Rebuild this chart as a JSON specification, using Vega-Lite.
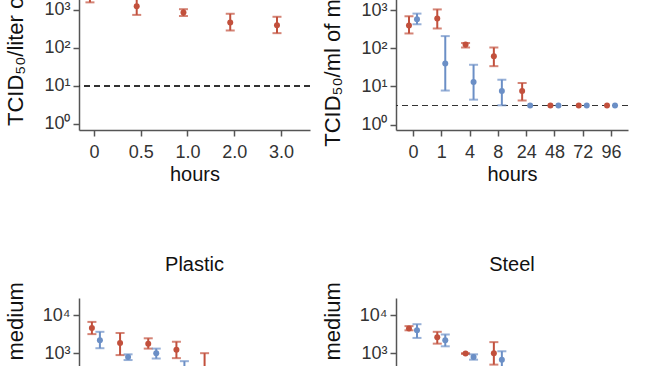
{
  "$schema": "https://vega.github.io/schema/vega-lite/v6.json",
  "padding": {"left": 4, "top": -94, "right": 0, "bottom": 0},
  "background": "white",
  "config": {
    "view": {"stroke": null},
    "axis": {
      "gridColor": "#dcdcdc", "gridWidth": 1,
      "domainColor": "#555", "domainWidth": 1.5,
      "tickColor": "#555", "tickWidth": 1.5, "tickSize": 6,
      "labelFont": "Liberation Sans", "labelFontSize": 18, "labelColor": "#333",
      "titleFont": "Liberation Sans", "titleFontWeight": "normal", "titleColor": "#111"
    },
    "axisY": {
      "labelExpr": "'10' + ['⁰','¹','²','³','⁴'][round(log(datum.value)/LN10)]",
      "titleFontSize": 22, "titlePadding": 15, "labelPadding": 3
    },
    "axisX": {"labelAngle": 0, "titleFontSize": 20, "labelPadding": 7, "titlePadding": 3},
    "title": {"font": "Liberation Sans", "fontSize": 20, "fontWeight": "normal", "color": "#111", "offset": 12}
  },
  "data": {"values": [
    {"panel": "Aerosols", "hours": "0", "virus": "SARS-CoV-2", "value": 2818, "lo": 1585, "hi": 5012},
    {"panel": "Aerosols", "hours": "0.5", "virus": "SARS-CoV-2", "value": 1259, "lo": 741, "hi": 1995},
    {"panel": "Aerosols", "hours": "1.0", "virus": "SARS-CoV-2", "value": 851, "lo": 692, "hi": 1047},
    {"panel": "Aerosols", "hours": "2.0", "virus": "SARS-CoV-2", "value": 468, "lo": 288, "hi": 794},
    {"panel": "Aerosols", "hours": "3.0", "virus": "SARS-CoV-2", "value": 398, "lo": 245, "hi": 661},

    {"panel": "Cardboard", "hours": "0", "virus": "SARS-CoV-2", "value": 398, "lo": 245, "hi": 692},
    {"panel": "Cardboard", "hours": "0", "virus": "SARS-CoV-1", "value": 575, "lo": 427, "hi": 813},
    {"panel": "Cardboard", "hours": "1", "virus": "SARS-CoV-2", "value": 603, "lo": 331, "hi": 1047},
    {"panel": "Cardboard", "hours": "1", "virus": "SARS-CoV-1", "value": 40, "lo": 7.8, "hi": 209},
    {"panel": "Cardboard", "hours": "4", "virus": "SARS-CoV-2", "value": 126, "lo": 105, "hi": 138},
    {"panel": "Cardboard", "hours": "4", "virus": "SARS-CoV-1", "value": 13, "lo": 4.5, "hi": 37},
    {"panel": "Cardboard", "hours": "8", "virus": "SARS-CoV-2", "value": 62, "lo": 34, "hi": 105},
    {"panel": "Cardboard", "hours": "8", "virus": "SARS-CoV-1", "value": 7.6, "lo": 3.2, "hi": 15},
    {"panel": "Cardboard", "hours": "24", "virus": "SARS-CoV-2", "value": 7.6, "lo": 4.3, "hi": 12.3},
    {"panel": "Cardboard", "hours": "24", "virus": "SARS-CoV-1", "value": 3.16, "lo": null, "hi": null},
    {"panel": "Cardboard", "hours": "48", "virus": "SARS-CoV-2", "value": 3.16, "lo": null, "hi": null},
    {"panel": "Cardboard", "hours": "48", "virus": "SARS-CoV-1", "value": 3.16, "lo": null, "hi": null},
    {"panel": "Cardboard", "hours": "72", "virus": "SARS-CoV-2", "value": 3.16, "lo": null, "hi": null},
    {"panel": "Cardboard", "hours": "72", "virus": "SARS-CoV-1", "value": 3.16, "lo": null, "hi": null},
    {"panel": "Cardboard", "hours": "96", "virus": "SARS-CoV-2", "value": 3.16, "lo": null, "hi": null},
    {"panel": "Cardboard", "hours": "96", "virus": "SARS-CoV-1", "value": 3.16, "lo": null, "hi": null},

    {"panel": "Plastic", "hours": "0", "virus": "SARS-CoV-2", "value": 4571, "lo": 3162, "hi": 6607},
    {"panel": "Plastic", "hours": "0", "virus": "SARS-CoV-1", "value": 2188, "lo": 1349, "hi": 3631},
    {"panel": "Plastic", "hours": "1", "virus": "SARS-CoV-2", "value": 1862, "lo": 891, "hi": 3388},
    {"panel": "Plastic", "hours": "1", "virus": "SARS-CoV-1", "value": 794, "lo": 661, "hi": 933},
    {"panel": "Plastic", "hours": "4", "virus": "SARS-CoV-2", "value": 1778, "lo": 1318, "hi": 2455},
    {"panel": "Plastic", "hours": "4", "virus": "SARS-CoV-1", "value": 1000, "lo": 724, "hi": 1318},
    {"panel": "Plastic", "hours": "8", "virus": "SARS-CoV-2", "value": 1230, "lo": 741, "hi": 1995},
    {"panel": "Plastic", "hours": "8", "virus": "SARS-CoV-1", "value": 316, "lo": 158, "hi": 617},
    {"panel": "Plastic", "hours": "24", "virus": "SARS-CoV-2", "value": 316, "lo": 100, "hi": 1000},

    {"panel": "Steel", "hours": "0", "virus": "SARS-CoV-2", "value": 4467, "lo": 3981, "hi": 5129},
    {"panel": "Steel", "hours": "0", "virus": "SARS-CoV-1", "value": 3981, "lo": 2512, "hi": 5754},
    {"panel": "Steel", "hours": "1", "virus": "SARS-CoV-2", "value": 2630, "lo": 1778, "hi": 3631},
    {"panel": "Steel", "hours": "1", "virus": "SARS-CoV-1", "value": 2188, "lo": 1514, "hi": 3090},
    {"panel": "Steel", "hours": "4", "virus": "SARS-CoV-2", "value": 977, "lo": 955, "hi": 1000},
    {"panel": "Steel", "hours": "4", "virus": "SARS-CoV-1", "value": 794, "lo": 676, "hi": 933},
    {"panel": "Steel", "hours": "8", "virus": "SARS-CoV-2", "value": 1000, "lo": 501, "hi": 1950},
    {"panel": "Steel", "hours": "8", "virus": "SARS-CoV-1", "value": 676, "lo": 316, "hi": 1122}
  ]},
  "vconcat": [
    {
      "spacing": 10,
      "hconcat": [
        {
          "title": "Aerosols",
          "width": 231, "height": 175,
          "transform": [{"filter": "datum.panel === 'Aerosols'"}],
          "layer": [
            {"mark": {"type": "rule", "strokeDash": [6, 4], "color": "#333", "strokeWidth": 1.5},
             "encoding": {"y": {"datum": 10, "type": "quantitative", "scale": {"type": "log", "domain": [0.69, 28000]}, "axis": {"title": "TCID₅₀/liter of air", "values": [1, 10, 100, 1000, 10000]}}}},
            {"mark": {"type": "rule", "strokeWidth": 2, "xOffset": {"expr": "datum.virus === 'SARS-CoV-2' ? -4 : 4"}},
             "encoding": {
               "x": {"field": "hours", "type": "ordinal", "scale": {"type": "point", "padding": 0.47, "align": 0.34, "domain": ["0", "0.5", "1.0", "2.0", "3.0"]}, "axis": {"title": "hours"}},
               "y": {"field": "lo", "type": "quantitative", "scale": {"type": "log", "domain": [0.69, 28000]}, "axis": {"title": "TCID₅₀/liter of air", "values": [1, 10, 100, 1000, 10000]}},
               "y2": {"field": "hi"},
               "color": {"field": "virus", "type": "nominal", "scale": {"domain": ["SARS-CoV-2", "SARS-CoV-1"], "range": ["#c2503c", "#6b8fc6"]}, "legend": null}
             }},
            {"mark": {"type": "tick", "size": 9, "thickness": 2, "orient": "horizontal", "xOffset": {"expr": "datum.virus === 'SARS-CoV-2' ? -4 : 4"}},
             "encoding": {
               "x": {"field": "hours", "type": "ordinal", "scale": {"type": "point", "padding": 0.47, "align": 0.34, "domain": ["0", "0.5", "1.0", "2.0", "3.0"]}, "axis": {"title": "hours"}},
               "y": {"field": "lo", "type": "quantitative", "scale": {"type": "log", "domain": [0.69, 28000]}, "axis": {"title": "TCID₅₀/liter of air", "values": [1, 10, 100, 1000, 10000]}},
               "color": {"field": "virus", "type": "nominal", "scale": {"domain": ["SARS-CoV-2", "SARS-CoV-1"], "range": ["#c2503c", "#6b8fc6"]}, "legend": null}
             }},
            {"mark": {"type": "tick", "size": 9, "thickness": 2, "orient": "horizontal", "xOffset": {"expr": "datum.virus === 'SARS-CoV-2' ? -4 : 4"}},
             "encoding": {
               "x": {"field": "hours", "type": "ordinal", "scale": {"type": "point", "padding": 0.47, "align": 0.34, "domain": ["0", "0.5", "1.0", "2.0", "3.0"]}, "axis": {"title": "hours"}},
               "y": {"field": "hi", "type": "quantitative", "scale": {"type": "log", "domain": [0.69, 28000]}, "axis": {"title": "TCID₅₀/liter of air", "values": [1, 10, 100, 1000, 10000]}},
               "color": {"field": "virus", "type": "nominal", "scale": {"domain": ["SARS-CoV-2", "SARS-CoV-1"], "range": ["#c2503c", "#6b8fc6"]}, "legend": null}
             }},
            {"mark": {"type": "circle", "size": 36, "opacity": 1, "xOffset": {"expr": "datum.virus === 'SARS-CoV-2' ? -4 : 4"}},
             "encoding": {
               "x": {"field": "hours", "type": "ordinal", "scale": {"type": "point", "padding": 0.47, "align": 0.34, "domain": ["0", "0.5", "1.0", "2.0", "3.0"]}, "axis": {"title": "hours"}},
               "y": {"field": "value", "type": "quantitative", "scale": {"type": "log", "domain": [0.69, 28000]}, "axis": {"title": "TCID₅₀/liter of air", "values": [1, 10, 100, 1000, 10000]}},
               "color": {"field": "virus", "type": "nominal", "scale": {"domain": ["SARS-CoV-2", "SARS-CoV-1"], "range": ["#c2503c", "#6b8fc6"]}, "legend": null}
             }}
          ]
        },
        {
          "title": "Cardboard",
          "width": 232, "height": 175,
          "transform": [{"filter": "datum.panel === 'Cardboard'"}],
          "layer": [
            {"mark": {"type": "rule", "strokeDash": [6, 4], "color": "#333", "strokeWidth": 1.2},
             "encoding": {"y": {"datum": 3.16, "type": "quantitative", "scale": {"type": "log", "domain": [0.72, 28000]}, "axis": {"title": "TCID₅₀/ml of medium", "values": [1, 10, 100, 1000, 10000]}}}},
            {"mark": {"type": "rule", "strokeWidth": 2, "xOffset": {"expr": "datum.virus === 'SARS-CoV-2' ? -4 : 4"}},
             "encoding": {
               "x": {"field": "hours", "type": "ordinal", "scale": {"type": "point", "padding": 0.6, "domain": ["0", "1", "4", "8", "24", "48", "72", "96"]}, "axis": {"title": "hours"}},
               "y": {"field": "lo", "type": "quantitative", "scale": {"type": "log", "domain": [0.72, 28000]}, "axis": {"title": "TCID₅₀/ml of medium", "values": [1, 10, 100, 1000, 10000]}},
               "y2": {"field": "hi"},
               "color": {"field": "virus", "type": "nominal", "scale": {"domain": ["SARS-CoV-2", "SARS-CoV-1"], "range": ["#c2503c", "#6b8fc6"]}, "legend": null}
             }},
            {"mark": {"type": "tick", "size": 9, "thickness": 2, "orient": "horizontal", "xOffset": {"expr": "datum.virus === 'SARS-CoV-2' ? -4 : 4"}},
             "encoding": {
               "x": {"field": "hours", "type": "ordinal", "scale": {"type": "point", "padding": 0.6, "domain": ["0", "1", "4", "8", "24", "48", "72", "96"]}, "axis": {"title": "hours"}},
               "y": {"field": "lo", "type": "quantitative", "scale": {"type": "log", "domain": [0.72, 28000]}, "axis": {"title": "TCID₅₀/ml of medium", "values": [1, 10, 100, 1000, 10000]}},
               "color": {"field": "virus", "type": "nominal", "scale": {"domain": ["SARS-CoV-2", "SARS-CoV-1"], "range": ["#c2503c", "#6b8fc6"]}, "legend": null}
             }},
            {"mark": {"type": "tick", "size": 9, "thickness": 2, "orient": "horizontal", "xOffset": {"expr": "datum.virus === 'SARS-CoV-2' ? -4 : 4"}},
             "encoding": {
               "x": {"field": "hours", "type": "ordinal", "scale": {"type": "point", "padding": 0.6, "domain": ["0", "1", "4", "8", "24", "48", "72", "96"]}, "axis": {"title": "hours"}},
               "y": {"field": "hi", "type": "quantitative", "scale": {"type": "log", "domain": [0.72, 28000]}, "axis": {"title": "TCID₅₀/ml of medium", "values": [1, 10, 100, 1000, 10000]}},
               "color": {"field": "virus", "type": "nominal", "scale": {"domain": ["SARS-CoV-2", "SARS-CoV-1"], "range": ["#c2503c", "#6b8fc6"]}, "legend": null}
             }},
            {"mark": {"type": "circle", "size": 36, "opacity": 1, "xOffset": {"expr": "datum.virus === 'SARS-CoV-2' ? -4 : 4"}},
             "encoding": {
               "x": {"field": "hours", "type": "ordinal", "scale": {"type": "point", "padding": 0.6, "domain": ["0", "1", "4", "8", "24", "48", "72", "96"]}, "axis": {"title": "hours"}},
               "y": {"field": "value", "type": "quantitative", "scale": {"type": "log", "domain": [0.72, 28000]}, "axis": {"title": "TCID₅₀/ml of medium", "values": [1, 10, 100, 1000, 10000]}},
               "color": {"field": "virus", "type": "nominal", "scale": {"domain": ["SARS-CoV-2", "SARS-CoV-1"], "range": ["#c2503c", "#6b8fc6"]}, "legend": null}
             }}
          ]
        }
      ]
    },
    {
      "spacing": 10,
      "hconcat": [
        {
          "title": {"text": "Plastic", "offset": 7},
          "width": 231, "height": 175,
          "transform": [{"filter": "datum.panel === 'Plastic'"}],
          "layer": [
            {"mark": {"type": "rule", "strokeDash": [6, 4], "color": "#333", "strokeWidth": 1.2},
             "encoding": {"y": {"datum": 3.16, "type": "quantitative", "scale": {"type": "log", "domain": [0.72, 28000]}, "axis": {"title": "TCID₅₀/ml of medium", "values": [1, 10, 100, 1000, 10000]}}}},
            {"mark": {"type": "rule", "strokeWidth": 2, "xOffset": {"expr": "datum.virus === 'SARS-CoV-2' ? -4 : 4"}},
             "encoding": {
               "x": {"field": "hours", "type": "ordinal", "scale": {"type": "point", "padding": 0.6, "domain": ["0", "1", "4", "8", "24", "48", "72", "96"]}, "axis": {"title": "hours"}},
               "y": {"field": "lo", "type": "quantitative", "scale": {"type": "log", "domain": [0.72, 28000]}, "axis": {"title": "TCID₅₀/ml of medium", "values": [1, 10, 100, 1000, 10000]}},
               "y2": {"field": "hi"},
               "color": {"field": "virus", "type": "nominal", "scale": {"domain": ["SARS-CoV-2", "SARS-CoV-1"], "range": ["#c2503c", "#6b8fc6"]}, "legend": null}
             }},
            {"mark": {"type": "tick", "size": 9, "thickness": 2, "orient": "horizontal", "xOffset": {"expr": "datum.virus === 'SARS-CoV-2' ? -4 : 4"}},
             "encoding": {
               "x": {"field": "hours", "type": "ordinal", "scale": {"type": "point", "padding": 0.6, "domain": ["0", "1", "4", "8", "24", "48", "72", "96"]}, "axis": {"title": "hours"}},
               "y": {"field": "lo", "type": "quantitative", "scale": {"type": "log", "domain": [0.72, 28000]}, "axis": {"title": "TCID₅₀/ml of medium", "values": [1, 10, 100, 1000, 10000]}},
               "color": {"field": "virus", "type": "nominal", "scale": {"domain": ["SARS-CoV-2", "SARS-CoV-1"], "range": ["#c2503c", "#6b8fc6"]}, "legend": null}
             }},
            {"mark": {"type": "tick", "size": 9, "thickness": 2, "orient": "horizontal", "xOffset": {"expr": "datum.virus === 'SARS-CoV-2' ? -4 : 4"}},
             "encoding": {
               "x": {"field": "hours", "type": "ordinal", "scale": {"type": "point", "padding": 0.6, "domain": ["0", "1", "4", "8", "24", "48", "72", "96"]}, "axis": {"title": "hours"}},
               "y": {"field": "hi", "type": "quantitative", "scale": {"type": "log", "domain": [0.72, 28000]}, "axis": {"title": "TCID₅₀/ml of medium", "values": [1, 10, 100, 1000, 10000]}},
               "color": {"field": "virus", "type": "nominal", "scale": {"domain": ["SARS-CoV-2", "SARS-CoV-1"], "range": ["#c2503c", "#6b8fc6"]}, "legend": null}
             }},
            {"mark": {"type": "circle", "size": 36, "opacity": 1, "xOffset": {"expr": "datum.virus === 'SARS-CoV-2' ? -4 : 4"}},
             "encoding": {
               "x": {"field": "hours", "type": "ordinal", "scale": {"type": "point", "padding": 0.6, "domain": ["0", "1", "4", "8", "24", "48", "72", "96"]}, "axis": {"title": "hours"}},
               "y": {"field": "value", "type": "quantitative", "scale": {"type": "log", "domain": [0.72, 28000]}, "axis": {"title": "TCID₅₀/ml of medium", "values": [1, 10, 100, 1000, 10000]}},
               "color": {"field": "virus", "type": "nominal", "scale": {"domain": ["SARS-CoV-2", "SARS-CoV-1"], "range": ["#c2503c", "#6b8fc6"]}, "legend": null}
             }}
          ]
        },
        {
          "title": {"text": "Steel", "offset": 7},
          "width": 232, "height": 175,
          "transform": [{"filter": "datum.panel === 'Steel'"}],
          "layer": [
            {"mark": {"type": "rule", "strokeDash": [6, 4], "color": "#333", "strokeWidth": 1.2},
             "encoding": {"y": {"datum": 3.16, "type": "quantitative", "scale": {"type": "log", "domain": [0.72, 28000]}, "axis": {"title": "TCID₅₀/ml of medium", "values": [1, 10, 100, 1000, 10000]}}}},
            {"mark": {"type": "rule", "strokeWidth": 2, "xOffset": {"expr": "datum.virus === 'SARS-CoV-2' ? -4 : 4"}},
             "encoding": {
               "x": {"field": "hours", "type": "ordinal", "scale": {"type": "point", "padding": 0.6, "domain": ["0", "1", "4", "8", "24", "48", "72", "96"]}, "axis": {"title": "hours"}},
               "y": {"field": "lo", "type": "quantitative", "scale": {"type": "log", "domain": [0.72, 28000]}, "axis": {"title": "TCID₅₀/ml of medium", "values": [1, 10, 100, 1000, 10000]}},
               "y2": {"field": "hi"},
               "color": {"field": "virus", "type": "nominal", "scale": {"domain": ["SARS-CoV-2", "SARS-CoV-1"], "range": ["#c2503c", "#6b8fc6"]}, "legend": null}
             }},
            {"mark": {"type": "tick", "size": 9, "thickness": 2, "orient": "horizontal", "xOffset": {"expr": "datum.virus === 'SARS-CoV-2' ? -4 : 4"}},
             "encoding": {
               "x": {"field": "hours", "type": "ordinal", "scale": {"type": "point", "padding": 0.6, "domain": ["0", "1", "4", "8", "24", "48", "72", "96"]}, "axis": {"title": "hours"}},
               "y": {"field": "lo", "type": "quantitative", "scale": {"type": "log", "domain": [0.72, 28000]}, "axis": {"title": "TCID₅₀/ml of medium", "values": [1, 10, 100, 1000, 10000]}},
               "color": {"field": "virus", "type": "nominal", "scale": {"domain": ["SARS-CoV-2", "SARS-CoV-1"], "range": ["#c2503c", "#6b8fc6"]}, "legend": null}
             }},
            {"mark": {"type": "tick", "size": 9, "thickness": 2, "orient": "horizontal", "xOffset": {"expr": "datum.virus === 'SARS-CoV-2' ? -4 : 4"}},
             "encoding": {
               "x": {"field": "hours", "type": "ordinal", "scale": {"type": "point", "padding": 0.6, "domain": ["0", "1", "4", "8", "24", "48", "72", "96"]}, "axis": {"title": "hours"}},
               "y": {"field": "hi", "type": "quantitative", "scale": {"type": "log", "domain": [0.72, 28000]}, "axis": {"title": "TCID₅₀/ml of medium", "values": [1, 10, 100, 1000, 10000]}},
               "color": {"field": "virus", "type": "nominal", "scale": {"domain": ["SARS-CoV-2", "SARS-CoV-1"], "range": ["#c2503c", "#6b8fc6"]}, "legend": null}
             }},
            {"mark": {"type": "circle", "size": 36, "opacity": 1, "xOffset": {"expr": "datum.virus === 'SARS-CoV-2' ? -4 : 4"}},
             "encoding": {
               "x": {"field": "hours", "type": "ordinal", "scale": {"type": "point", "padding": 0.6, "domain": ["0", "1", "4", "8", "24", "48", "72", "96"]}, "axis": {"title": "hours"}},
               "y": {"field": "value", "type": "quantitative", "scale": {"type": "log", "domain": [0.72, 28000]}, "axis": {"title": "TCID₅₀/ml of medium", "values": [1, 10, 100, 1000, 10000]}},
               "color": {"field": "virus", "type": "nominal", "scale": {"domain": ["SARS-CoV-2", "SARS-CoV-1"], "range": ["#c2503c", "#6b8fc6"]}, "legend": null}
             }}
          ]
        }
      ]
    }
  ],
  "spacing": 70
}
